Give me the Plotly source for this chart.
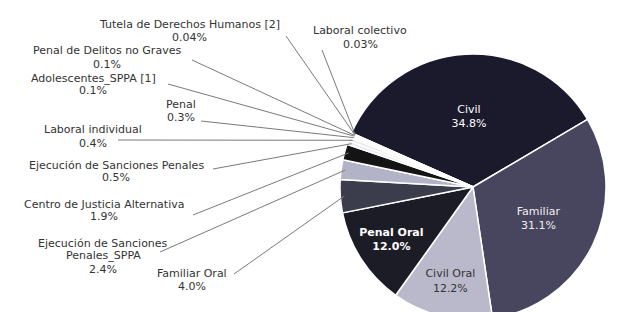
import math
import plotly.graph_objects as go

# ---------------- data ----------------
labels = [
    "Civil", "Familiar", "Civil Oral", "Penal Oral", "Familiar Oral",
    "Ejecución de Sanciones Penales_SPPA", "Centro de Justicia Alternativa",
    "Ejecución de Sanciones Penales", "Laboral individual", "Penal",
    "Adolescentes_SPPA [1]", "Penal de Delitos no Graves",
    "Tutela de Derechos Humanos [2]", "Laboral colectivo",
]
display_labels = [
    "Civil", "Familiar", "Civil Oral", "Penal Oral", "Familiar Oral",
    "Ejecución de Sanciones<br>Penales_SPPA", "Centro de Justicia Alternativa",
    "Ejecución de Sanciones Penales", "Laboral individual", "Penal",
    "Adolescentes_SPPA [1]", "Penal de Delitos no Graves",
    "Tutela de Derechos Humanos [2]", "Laboral colectivo",
]
values = [34.8, 31.1, 12.2, 12.0, 4.0, 2.4, 1.9, 0.5, 0.4, 0.3, 0.1, 0.1, 0.04, 0.03]

# ---------------- style ----------------
W, H = 641, 312
CX, CY, R = 465, 179, 133
ROTATION = -66
FONT = "DejaVu Sans"
LABEL_SIZE = 11
LINE_GAP = 13

colors = ["#1b1a2d", "#48465e", "#b9b9cb", "#1c1c27", "#3b3d4d", "#b3b3c7",
          "#141414", "#eeeef2", "#e6e6ec", "#f0f0f4", "#e8e8ee", "#f2f2f6",
          "#eaeaf0", "#f4f4f8"]

inside_n = 4
inside_colors = ["#ffffff", "#eeeeee", "#333333", "#ffffff"] + ["#333333"] * (len(values) - inside_n)

# outside label positions (pixel): text centre x, first-line centre y, leader start x, y
outside_pos = {
    "Familiar Oral": (184, 265, 226, 266),
    "Ejecución de Sanciones Penales_SPPA": (95, 235, 152, 244),
    "Centro de Justicia Alternativa": (96, 196, 185, 207),
    "Ejecución de Sanciones Penales": (108, 157, 205, 161),
    "Laboral individual": (85, 122, 110, 132),
    "Penal": (173, 96, 193, 113),
    "Adolescentes_SPPA [1]": (85, 70, 160, 76),
    "Penal de Delitos no Graves": (99, 43, 184, 52),
    "Tutela de Derechos Humanos [2]": (181, 16, 278, 28),
    "Laboral colectivo": (352, 23, 314, 42),
}


def pct(v):
    return f"{v:.2f}%" if v < 0.1 else f"{v:.1f}%"


texts = []
positions = []
for i, (lab, v) in enumerate(zip(display_labels, values)):
    if i < inside_n:
        t = f"{lab}<br>{pct(v)}"
        if lab == "Penal Oral":
            t = f"<b>{lab}<br>{pct(v)}</b>"
        texts.append(t)
        positions.append("inside")
    else:
        texts.append("")
        positions.append("none")

fig = go.Figure(go.Pie(
    labels=labels,
    values=values,
    text=texts,
    textinfo="text",
    textposition=positions,
    insidetextorientation="horizontal",
    insidetextfont=dict(family=FONT, size=11, color=inside_colors),
    sort=False,
    direction="clockwise",
    rotation=ROTATION,
    marker=dict(colors=colors, line=dict(color="#ffffff", width=1.5)),
    domain=dict(x=[(CX - R) / W, (CX + R) / W], y=[1 - (CY + R) / H, 1 - (CY - R) / H]),
    hoverinfo="label+percent",
    showlegend=False,
))


def px(x):
    return x / W


def py(y):
    return 1 - y / H


total = sum(values)
cum = 0.0
shapes = []
annotations = []
for lab, dlab, v in zip(labels, display_labels, values):
    mid = math.radians(ROTATION + (cum + v / 2) / total * 360)
    cum += v
    if lab not in outside_pos:
        continue
    tx, ty, lx, ly = outside_pos[lab]
    r = R * 0.97
    ex = CX + r * math.sin(mid)
    ey = CY - r * math.cos(mid)
    shapes.append(dict(type="line", xref="paper", yref="paper",
                       x0=px(lx), y0=py(ly), x1=px(ex), y1=py(ey),
                       line=dict(color="#7a7a7a", width=1)))
    lines = dlab.split("<br>") + [pct(v)]
    for k, line in enumerate(lines):
        annotations.append(dict(xref="paper", yref="paper", x=px(tx), y=py(ty + k * LINE_GAP),
                                xanchor="center", yanchor="middle", showarrow=False,
                                borderpad=0, text=line,
                                font=dict(family=FONT, size=LABEL_SIZE, color="#333333")))

fig.update_layout(
    width=W, height=H,
    margin=dict(l=0, r=0, t=0, b=0),
    paper_bgcolor="#ffffff",
    plot_bgcolor="#ffffff",
    showlegend=False,
    shapes=shapes,
    annotations=annotations,
    font=dict(family=FONT, size=10, color="#333333"),
)

fig.write_html("out.html")
